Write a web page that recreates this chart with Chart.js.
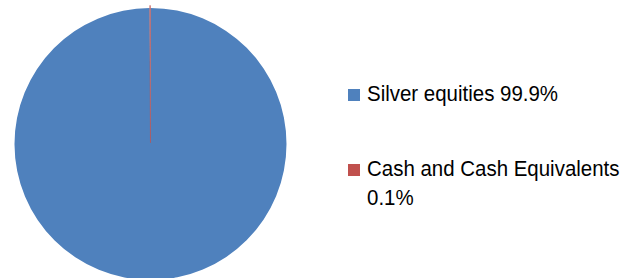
<!DOCTYPE html>
<html lang="en">
<head>
    <meta charset="UTF-8">
    <title>Fund holdings</title>
    <script src="https://cdn.jsdelivr.net/npm/chart.js"></script>
    <style>
        body { margin: 0; background: #fff; }
        .wrap { position: relative; width: 636px; height: 278px; overflow: hidden; }
        #pie { position: absolute; left: 0; top: 0; }
        .item {
            position: absolute;
            left: 348px;
            width: 280px;
            font-family: "Liberation Sans", Arial, sans-serif;
            font-size: 22px;
            line-height: 28.5px;
            color: #000;
        }
        .item .box { position: absolute; left: 0; top: 9px; width: 12px; height: 12px; }
        .item .txt {
            position: absolute;
            left: 19px;
            width: 290px;
            transform: scaleX(0.93);
            transform-origin: 0 0;
        }
    </style>
</head>
<body>
    <div class="wrap">
        <canvas id="pie" width="301" height="278"></canvas>
        <div id="legend"></div>
    </div>

    <script>
        // holdings breakdown
        const labels = ['Silver equities', 'Cash and Cash Equivalents'];
        const values = [99.9, 0.1];
        const colors = ['#4F81BD', '#C0504D'];
        const legendTops = [80, 155];

        // legend on the right
        const legend = document.getElementById('legend');
        labels.forEach((label, i) => {
            const item = document.createElement('div');
            item.className = 'item';
            item.style.top = legendTops[i] + 'px';
            item.innerHTML = `<span class="box" style="background:${colors[i]}"></span>` +
                `<div class="txt">${label} ${values[i]}%</div>`;
            legend.appendChild(item);
        });

        const ctx = document.getElementById('pie').getContext('2d');
        new Chart(ctx, {
            type: 'pie',
            data: {
                labels: labels,
                datasets: [{
                    data: values,
                    backgroundColor: colors,
                    borderColor: colors,
                    borderWidth: [0, 0.5],
                    offset: [0, 5],
                    radius: 136
                }]
            },
            options: {
                responsive: false,
                animation: false,
                layout: { padding: { top: 10, bottom: 0 } },
                plugins: {
                    legend: { display: false },
                    tooltip: { enabled: false }
                }
            }
        });
    </script>
</body>
</html>
